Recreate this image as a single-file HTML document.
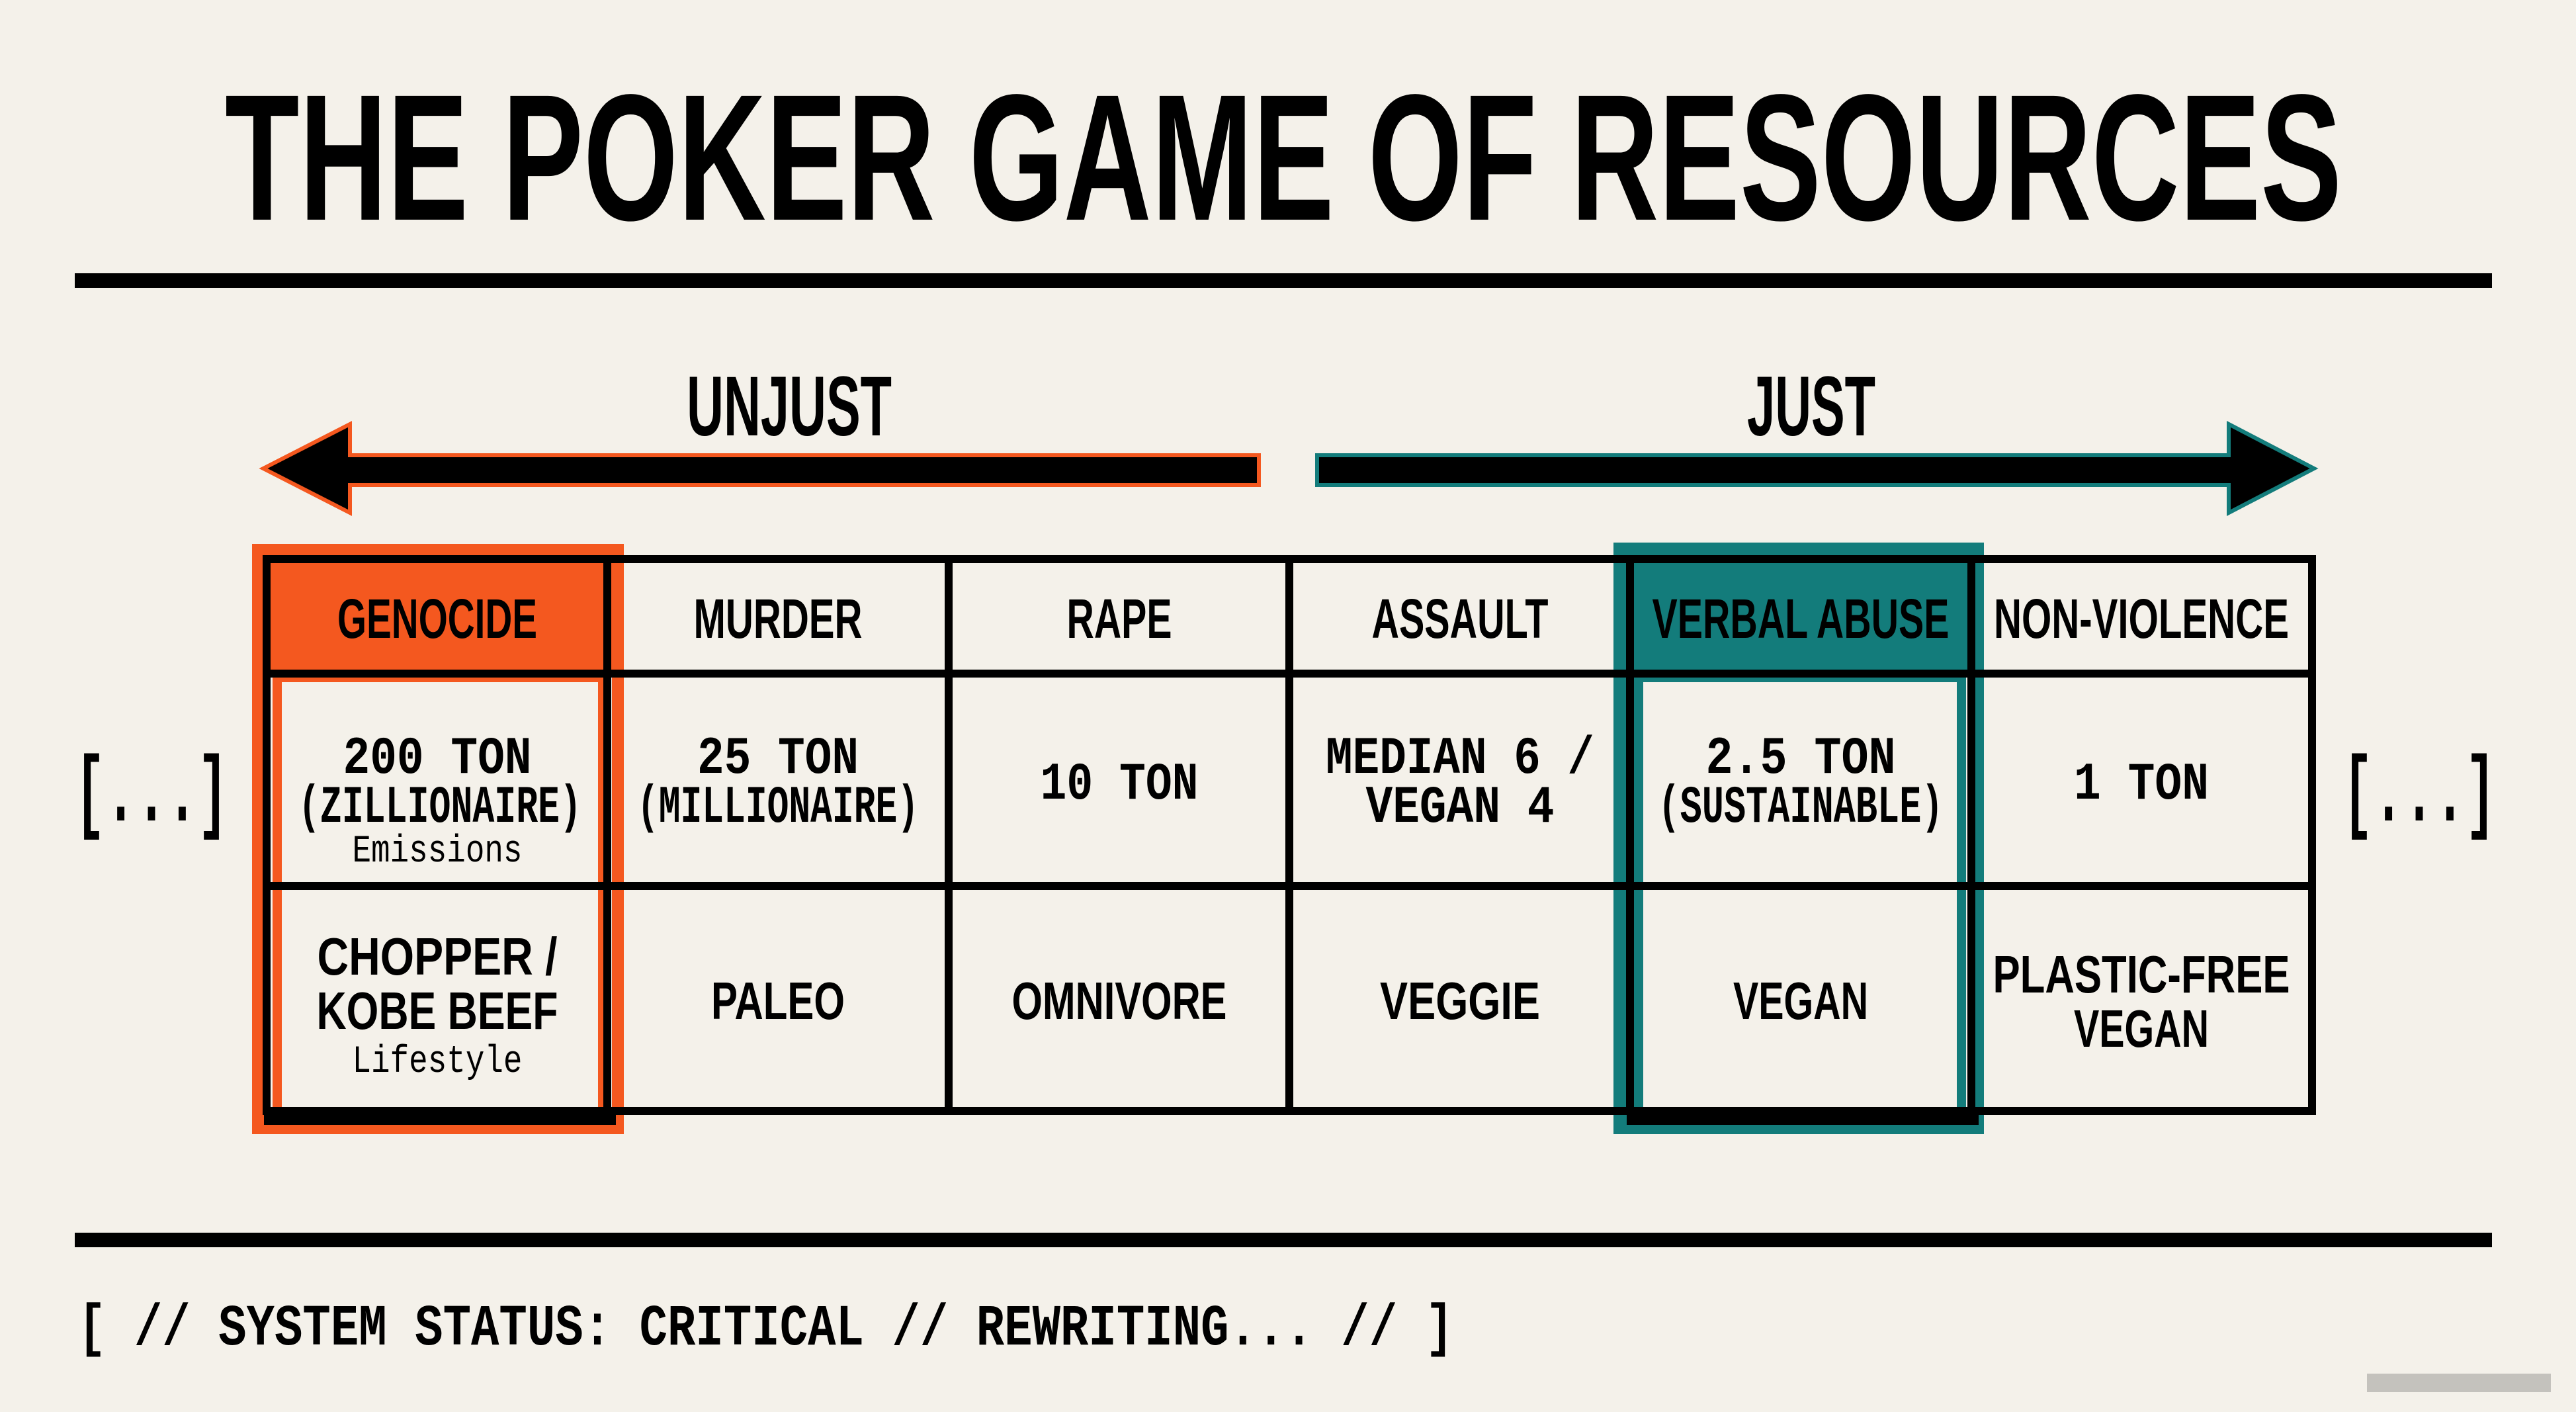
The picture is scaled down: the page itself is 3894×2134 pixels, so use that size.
<!DOCTYPE html>
<html><head><meta charset="utf-8"><style>
html,body{margin:0;padding:0;background:#f4f1ea;}
svg{display:block}
.t{font-family:"Liberation Sans",sans-serif;font-weight:bold;fill:#000;text-anchor:middle}
.m{font-family:"Liberation Mono",monospace;font-weight:bold;fill:#000;text-anchor:middle}
.s{font-family:"Liberation Mono",monospace;font-weight:normal;fill:#000;text-anchor:middle}
</style></head><body>
<svg width="3894" height="2134" viewBox="0 0 3894 2134" xmlns="http://www.w3.org/2000/svg">
<rect width="3894" height="2134" fill="#f4f1ea"/>
<!-- title -->
<text class="t" x="1940" y="332" font-size="272" textLength="3200" lengthAdjust="spacingAndGlyphs">THE POKER GAME OF RESOURCES</text>
<rect x="113" y="413" width="3654" height="22" fill="#000"/>
<!-- labels -->
<text class="t" x="1193" y="658" font-size="128" textLength="310" lengthAdjust="spacingAndGlyphs">UNJUST</text>
<text class="t" x="2738" y="658" font-size="128" textLength="194" lengthAdjust="spacingAndGlyphs">JUST</text>
<!-- arrows -->
<polygon points="398,708 529,641 529,688 1903,688 1903,733 529,733 529,775" fill="#000" stroke="#f4581f" stroke-width="6" stroke-linejoin="miter"/>
<polygon points="3498,708 3369,641 3369,688 1991,688 1991,733 3369,733 3369,775" fill="#000" stroke="#137c7b" stroke-width="6" stroke-linejoin="miter"/>
<!-- orange box -->
<rect x="381" y="822" width="562" height="892" fill="#f4581f"/>
<rect x="405" y="846" width="520" height="846" fill="#f4f1ea"/>
<rect x="405" y="846" width="520" height="172" fill="#f4581f"/>
<rect x="419" y="1024" width="492" height="660" fill="none" stroke="#f4581f" stroke-width="14"/>
<!-- teal box -->
<rect x="2439" y="820" width="560" height="894" fill="#137c7b"/>
<rect x="2463" y="846" width="516" height="846" fill="#f4f1ea"/>
<rect x="2463" y="846" width="516" height="172" fill="#137c7b"/>
<rect x="2477" y="1024" width="488" height="660" fill="none" stroke="#137c7b" stroke-width="14"/>
<!-- table grid -->
<g fill="#000">
<rect x="397" y="839" width="3104" height="12"/>
<rect x="397" y="1012" width="3104" height="12"/>
<rect x="397" y="1333" width="3104" height="12"/>
<rect x="397" y="1673" width="3104" height="12"/>
<rect x="397" y="839" width="12" height="846"/>
<rect x="912" y="839" width="12" height="846"/>
<rect x="1428" y="839" width="12" height="846"/>
<rect x="1943" y="839" width="12" height="846"/>
<rect x="2458" y="839" width="12" height="846"/>
<rect x="2974" y="839" width="12" height="846"/>
<rect x="3489" y="839" width="12" height="846"/>
<!-- thicker box inner borders -->
<rect x="399" y="1680" width="532" height="20"/>
<rect x="2459" y="1680" width="532" height="20"/>
</g>
<!-- headers -->
<g font-size="84">
<text class="t" x="661" y="964" textLength="302" lengthAdjust="spacingAndGlyphs">GENOCIDE</text>
<text class="t" x="1176" y="964" textLength="255" lengthAdjust="spacingAndGlyphs">MURDER</text>
<text class="t" x="1692" y="964" textLength="159" lengthAdjust="spacingAndGlyphs">RAPE</text>
<text class="t" x="2207" y="964" textLength="267" lengthAdjust="spacingAndGlyphs">ASSAULT</text>
<text class="t" x="2722" y="964" textLength="449" lengthAdjust="spacingAndGlyphs">VERBAL ABUSE</text>
<text class="t" x="3237" y="964" textLength="446" lengthAdjust="spacingAndGlyphs">NON-VIOLENCE</text>
</g>
<!-- middle row -->
<g font-size="80">
<text class="m" x="661" y="1168" textLength="285" lengthAdjust="spacingAndGlyphs">200 TON</text>
<text class="m" x="665" y="1242" textLength="428" lengthAdjust="spacingAndGlyphs">(ZILLIONAIRE)</text>
<text class="m" x="1176" y="1168" textLength="244" lengthAdjust="spacingAndGlyphs">25 TON</text>
<text class="m" x="1176" y="1242" textLength="426" lengthAdjust="spacingAndGlyphs">(MILLIONAIRE)</text>
<text class="m" x="1692" y="1207" textLength="239" lengthAdjust="spacingAndGlyphs">10 TON</text>
<text class="m" x="2207" y="1168" textLength="406" lengthAdjust="spacingAndGlyphs">MEDIAN 6 /</text>
<text class="m" x="2207" y="1242" textLength="285" lengthAdjust="spacingAndGlyphs">VEGAN 4</text>
<text class="m" x="2722" y="1168" textLength="287" lengthAdjust="spacingAndGlyphs">2.5 TON</text>
<text class="m" x="2722" y="1242" textLength="431" lengthAdjust="spacingAndGlyphs">(SUSTAINABLE)</text>
<text class="m" x="3237" y="1207" textLength="204" lengthAdjust="spacingAndGlyphs">1 TON</text>
</g>
<text class="s" x="661" y="1302" font-size="58" textLength="257" lengthAdjust="spacingAndGlyphs">Emissions</text>
<!-- bottom row -->
<g font-size="80">
<text class="t" x="661" y="1473" textLength="363" lengthAdjust="spacingAndGlyphs">CHOPPER /</text>
<text class="t" x="661" y="1555" textLength="365" lengthAdjust="spacingAndGlyphs">KOBE BEEF</text>
<text class="t" x="1176" y="1540" textLength="202" lengthAdjust="spacingAndGlyphs">PALEO</text>
<text class="t" x="1692" y="1540" textLength="325" lengthAdjust="spacingAndGlyphs">OMNIVORE</text>
<text class="t" x="2207" y="1540" textLength="242" lengthAdjust="spacingAndGlyphs">VEGGIE</text>
<text class="t" x="2722" y="1540" textLength="204" lengthAdjust="spacingAndGlyphs">VEGAN</text>
<text class="t" x="3237" y="1500" textLength="449" lengthAdjust="spacingAndGlyphs">PLASTIC-FREE</text>
<text class="t" x="3237" y="1582" textLength="204" lengthAdjust="spacingAndGlyphs">VEGAN</text>
</g>
<text class="s" x="661" y="1620" font-size="58" textLength="257" lengthAdjust="spacingAndGlyphs">Lifestyle</text>
<!-- ellipsis brackets -->
<text class="m" x="229" y="1240" font-size="140" textLength="232" lengthAdjust="spacingAndGlyphs">[...]</text>
<text class="m" x="3657" y="1240" font-size="140" textLength="232" lengthAdjust="spacingAndGlyphs">[...]</text>
<!-- bottom rule -->
<rect x="113" y="1863" width="3654" height="22" fill="#000"/>
<text class="m" x="118" y="2032" font-size="88" text-anchor="start" style="text-anchor:start" textLength="2079" lengthAdjust="spacingAndGlyphs">[ // SYSTEM STATUS: CRITICAL // REWRITING... // ]</text>
<rect x="3578" y="2076" width="278" height="28" fill="#c4c2bd"/>
</svg>
</body></html>
